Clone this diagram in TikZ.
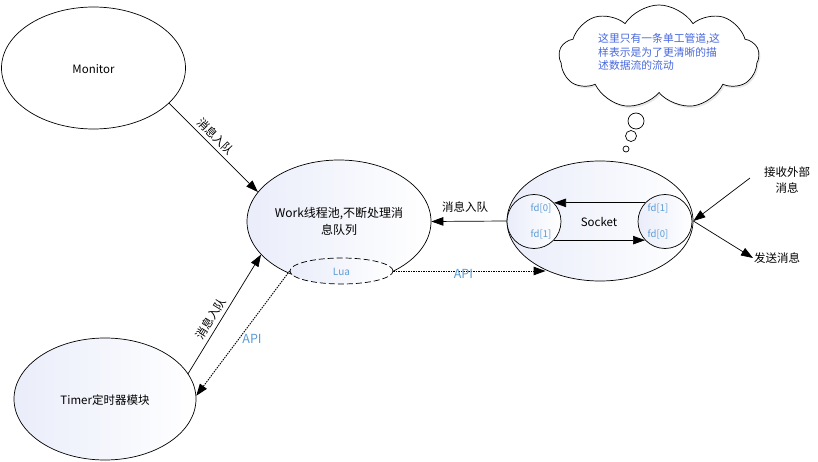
\documentclass[tikz,border=0pt]{standalone}
\usepackage{fontspec}
\setmainfont{Noto Sans CJK SC}
\usetikzlibrary{shapes.geometric,shapes.symbols,arrows.meta,shadows}
\definecolor{gradc}{RGB}{234,237,250}
\definecolor{lblue}{RGB}{91,155,213}
\definecolor{cblue}{RGB}{72,104,222}
\tikzset{
  ell/.style={ellipse, draw, line width=0.7pt, inner sep=0pt},
  grad/.style={left color=gradc, right color=white},
  arr/.style={line width=0.7pt, -{Triangle[length=12pt,width=8.5pt]}},
  dotln/.style={line width=0.9pt, dash pattern=on 1.5pt off 1pt},
  lbl/.style={font=\fontsize{11.5}{14}\selectfont, inner sep=1pt},
  bluelbl/.style={font=\fontsize{9.5}{11}\selectfont, text=lblue, inner sep=0pt},
  apilbl/.style={font=\fontsize{12.5}{14}\selectfont, text=lblue, inner sep=0pt},
  bubble/.style={circle, draw, line width=0.7pt, fill=white, inner sep=0pt}
}
\begin{document}
\begin{tikzpicture}[x=1pt,y=-1pt]
\useasboundingbox (0,0) rectangle (818,462);
% ellipses
\node[ell, fill=white, minimum width=184pt, minimum height=122pt] (monitor) at (93.5,68) {};
\node[lbl] (monitortxt) at (93.5,69) {Monitor};
\node[ell, grad, minimum width=182pt, minimum height=122pt] (timer) at (105,399) {};
\node[lbl] (timertxt) at (105,400) {Timer定时器模块};
\node[ell, grad, minimum width=184pt, minimum height=123pt] (work) at (339,221.5) {};
\node[lbl, align=center, font=\fontsize{12}{17}\selectfont] (worktxt) at (339,221.5) {Work线程池,不断处理消\\息队列};
\node[ell, grad, dash pattern=on 6pt off 3pt, minimum width=103pt, minimum height=26pt] (lua) at (341.5,271) {};
\node[bluelbl, font=\fontsize{10}{12}\selectfont] (luatxt) at (341.5,272) {Lua};
\node[ell, grad, minimum width=186pt, minimum height=120pt] (socket) at (600,221) {};
\node[ell, grad, circle, minimum size=54pt] (fdL) at (534,221.5) {};
\node[ell, grad, circle, minimum size=54pt] (fdR) at (665,221.5) {};
\node[lbl] (sockettxt) at (599,222) {Socket};
\node[bluelbl] (fdl0) at (541,208) {fd[0]};
\node[bluelbl] (fdl1) at (541,234) {fd[1]};
\node[bluelbl] (fdr1) at (658,208) {fd[1]};
\node[bluelbl] (fdr0) at (658,234) {fd[0]};
% cloud
\node[cloud, draw, line width=0.7pt, fill=white, cloud puffs=9, cloud puff arc=115, cloud ignores aspect,
      minimum width=200pt, minimum height=104pt,
      drop shadow={opacity=0.3, shadow xshift=1.5pt, shadow yshift=-2pt, fill=gray!60}] (cloud) at (659,57) {};
\node[bubble, minimum size=16pt] (b1) at (636,121) {};
\node[bubble, minimum size=11pt] (b2) at (631,136) {};
\node[bubble, minimum size=6pt] (b3) at (626,149) {};
\node[anchor=west, align=left, text=cblue, font=\fontsize{10.8}{13.5}\selectfont, inner sep=0pt] (cloudtxt) at (598,52)
  {这里只有一条单工管道,这\\样表示是为了更清晰的描\\述数据流的流动};
% outside labels
\node[lbl, align=center, font=\fontsize{11.5}{15.5}\selectfont] (recv) at (787,180) {接收外部\\消息};
\coordinate (recvin) at (750,178);
\node[lbl, anchor=west] (send) at (753,258) {发送消息};
% connectors
\draw[arr] (monitor.-25) -- node[lbl, sloped, above=3pt, pos=0.45] (lblmon) {消息入队} (work.160);
\draw[arr] (timer.17) -- node[lbl, sloped, above=3pt, pos=0.42] (lbltim) {消息入队} (work.203);
\draw[arr] (socket.west) -- node[lbl, above=7pt, pos=0.55] (lblsock) {消息入队} (work.east);
\draw[arr, dotln] (lua.east) -- node[apilbl, pos=0.46, yshift=-3pt] (api1) {API} (lua.east -| socket.222);
\draw[arr, dotln] (lua.west) -- (timer.2);
\node[apilbl] (api2) at (252,339) {API};
\draw[arr] (fdR.137) -- (fdL.43);
\draw[arr] (fdL.-43) -- (fdR.-137);
\draw[arr] (recvin) -- (socket.east);
\draw[arr] (socket.east) -- (send.west);
\end{tikzpicture}
\end{document}
